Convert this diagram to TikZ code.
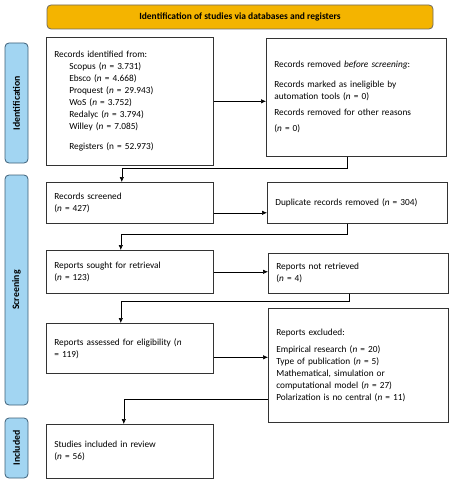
\documentclass[tikz,border=0pt]{standalone}
\usepackage{fontspec}
\setmainfont{Carlito}
\usetikzlibrary{arrows.meta,positioning,calc}
\definecolor{hdrfill}{HTML}{F4B400}
\definecolor{hdrline}{HTML}{6E6A60}
\definecolor{phasefill}{HTML}{A2D5F2}
\definecolor{phaseline}{HTML}{3D5F78}
\newcommand{\nn}[1]{(\textit{n} = #1)}
\newcommand{\ind}{\hspace*{15pt}}
\tikzset{
  blk/.style   = {draw=black!80, line width=0.6pt, align=left, anchor=north west,
                  inner xsep=8pt, inner ysep=3pt, font=\fontsize{9.3}{12}\selectfont},
  lbox/.style  = {blk, text width=151pt},
  rbox/.style  = {blk, text width=164pt},
  phase/.style = {draw=phaseline, fill=phasefill, rounded corners=4pt, line width=0.8pt,
                  rotate=90, minimum height=23pt, inner sep=0pt,
                  font=\fontsize{9.8}{11}\selectfont\bfseries},
  hdr/.style   = {draw=hdrline, fill=hdrfill, rounded corners=4pt, line width=0.8pt,
                  minimum width=386pt, minimum height=24pt, inner sep=0pt,
                  font=\fontsize{9.5}{11}\selectfont\bfseries},
  ar/.style    = {-{Latex[length=5pt,width=4.5pt]}, line width=0.6pt},
  ln/.style    = {line width=0.6pt}
}
\begin{document}
\begin{tikzpicture}[x=1pt, y=-1pt]
\useasboundingbox (0,0) rectangle (450,481);

\node[hdr] (head) at (240,17) {Identification of studies via databases and registers};

\node[phase, minimum width=120pt] (phid) at (16.5,103) {Identification};
\node[phase, minimum width=230pt] (phsc) at (16.5,290) {Screening};
\node[phase, minimum width=60pt]  (phin) at (16.5,448) {Included};

\node[lbox, minimum height=128pt] (recid) at (46,37)
  {Records identified from:\\
   \ind Scopus \nn{3.731}\\
   \ind Ebsco \nn{4.668}\\
   \ind Proquest \nn{29.943}\\
   \ind WoS \nn{3.752}\\
   \ind Redalyc \nn{3.794}\\
   \ind Willey \nn{7.085}\\[8pt]
   \ind Registers (n = 52.973)};
\node[rbox, minimum height=118pt] (recrem) at (266,38)
  {Records removed \textit{before screening}:\\[8pt]
   Records marked as ineligible by\\
   automation tools \nn{0}\\[4pt]
   Records removed for other reasons\\[4pt]
   \nn{0}};

\node[lbox, minimum height=41pt] (scr) at (46,182)
  {Records screened\\ \nn{427}};
\node[rbox, minimum height=41pt] (dup) at (267,182)
  {Duplicate records removed \nn{304}};

\node[lbox, minimum height=43pt] (sought) at (46,250)
  {Reports sought for retrieval\\ \nn{123}};
\node[rbox, minimum height=40pt] (notret) at (268,253)
  {Reports not retrieved\\ \nn{4}};

\node[lbox, minimum height=50pt] (assess) at (46,323)
  {Reports assessed for eligibility (\textit{n}\\ = 119)};
\node[rbox, minimum height=114pt] (excl) at (268,308)
  {Reports excluded:\\[5pt]
   Empirical research \nn{20}\\
   Type of publication \nn{5}\\
   Mathematical, simulation or\\
   computational model \nn{27}\\
   Polarization is no central \nn{11}};

\node[lbox, minimum height=54pt] (stud) at (46,424)
  {Studies included in review\\ \nn{56}};

% side arrows
\draw[ar] (recid.east) -- (recid.east -| recrem.west);
\draw[ar] ([yshift=-10pt]scr.east) -- ([yshift=-10pt]scr.east -| dup.west);
\draw[ar] (sought.east) -- (sought.east -| notret.west);
\draw[ar] ([yshift=-9pt]assess.east) -- ([yshift=-9pt]assess.east -| excl.west);

% down links
\draw[ar] ([xshift=-9pt]recrem.south) -- ++(0,12) -| ([xshift=-8pt]scr.north);
\draw[ar] ([xshift=-10pt]dup.south) -- ++(0,11) -| ([xshift=-9pt]sought.north);
\draw[ar] ([xshift=-9pt]notret.south) -- ++(0,8) -| ([xshift=-9pt]assess.north);
\draw[ar] ([yshift=-34pt]excl.west) -| ([xshift=-6pt]stud.north);
\end{tikzpicture}
\end{document}
